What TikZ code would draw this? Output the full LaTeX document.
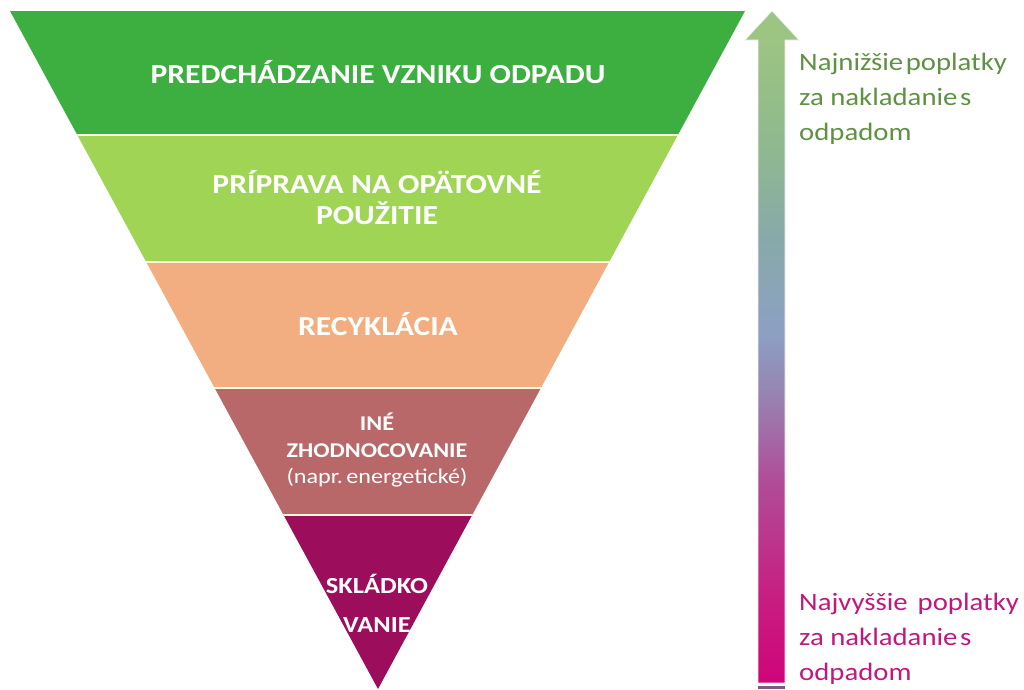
\documentclass[tikz,border=0pt]{standalone}
\usepackage{fontspec}
\setmainfont[FakeStretch=1.15]{Carlito}
\usetikzlibrary{calc}
\definecolor{bandA}{HTML}{3DAE40}
\definecolor{bandB}{HTML}{9FD454}
\definecolor{bandC}{HTML}{F2AE80}
\definecolor{bandD}{HTML}{B9686A}
\definecolor{bandE}{HTML}{9C0D5C}
\definecolor{topTxt}{HTML}{5F9142}
\definecolor{botTxt}{HTML}{C0187C}
\definecolor{sA}{HTML}{D0047A}
\definecolor{sB}{HTML}{C81C80}
\definecolor{sC}{HTML}{B04C98}
\definecolor{sD}{HTML}{9880B0}
\definecolor{sE}{HTML}{8CA0C4}
\definecolor{sF}{HTML}{88AAA8}
\definecolor{sG}{HTML}{8EB890}
\definecolor{sH}{HTML}{9CC482}
\definecolor{barC}{HTML}{7A5A82}
\pgfdeclareverticalshading{arrowshade}{100bp}{%
 color(0bp)=(sA);
 color(25bp)=(sA);
 color(31bp)=(sB);
 color(40bp)=(sC);
 color(46bp)=(sD);
 color(51bp)=(sE);
 color(58.5bp)=(sF);
 color(64.5bp)=(sG);
 color(72.8bp)=(sH);
 color(75bp)=(sH);
 color(100bp)=(sH)}
\begin{document}
\begin{tikzpicture}[x=1pt,y=-1pt,
  bandtxt/.style={text=white,font=\bfseries\fontsize{27.5}{31}\selectfont,align=center},
  smalltxt/.style={text=white,font=\bfseries\fontsize{21}{26.5}\selectfont,align=center},
  sidetxt/.style={font=\fontsize{25}{35}\selectfont,align=left,anchor=west,inner sep=0pt}]
\useasboundingbox (0,0) rectangle (1024,689);
% pyramid
\coordinate (TL) at (10,11);
\coordinate (TR) at (745,11);
\coordinate (AP) at (378,689);
\begin{scope}
  \clip (TL) -- (TR) -- (AP) -- cycle;
  \fill[bandA] (0,0) rectangle (760,135);
  \fill[bandB] (0,135) rectangle (760,262);
  \fill[bandC] (0,262) rectangle (760,388);
  \fill[bandD] (0,388) rectangle (760,515);
  \fill[bandE] (0,515) rectangle (760,689);
  \foreach \yy in {135,262,388,515}
    \draw[white!85!yellow,line width=1.5pt] (0,\yy) -- (760,\yy);
\end{scope}
% labels
\node[bandtxt] (l1) at (378,72) {PREDCHÁDZANIE VZNIKU ODPADU};
\node[bandtxt] (l2) at (377,198) {PRÍPRAVA NA OPÄTOVNÉ\\POUŽITIE};
\node[bandtxt] (l3) at (378,324) {RECYKLÁCIA};
\node[smalltxt] (l4) at (377,450) {INÉ\\ZHODNOCOVANIE\\\mdseries(napr.\,energetické)};
\node[bandtxt,font=\bfseries\fontsize{23}{39}\selectfont] (l5) at (377,603) {SKLÁDKO\\VANIE};
% arrow
\shade[shading=arrowshade,draw=white!90!gray,line width=0.6pt]
  (758,683) -- (758,40) -- (745,40) -- (772,11) -- (799,40) -- (785,40) -- (785,683) -- cycle;
\fill[barC] (758,686) rectangle (785,689);
% side texts
\node[sidetxt,text=topTxt] (t1) at (799,99) {Najnižšie\hspace{0.1em}poplatky\\za nakladanie\hspace{0.1em}s\\odpadom};
\node[sidetxt,text=botTxt] (t2) at (799,639) {Najvyššie\hspace{0.4em}poplatky\\za nakladanie\hspace{0.1em}s\\odpadom};
\end{tikzpicture}
\end{document}
